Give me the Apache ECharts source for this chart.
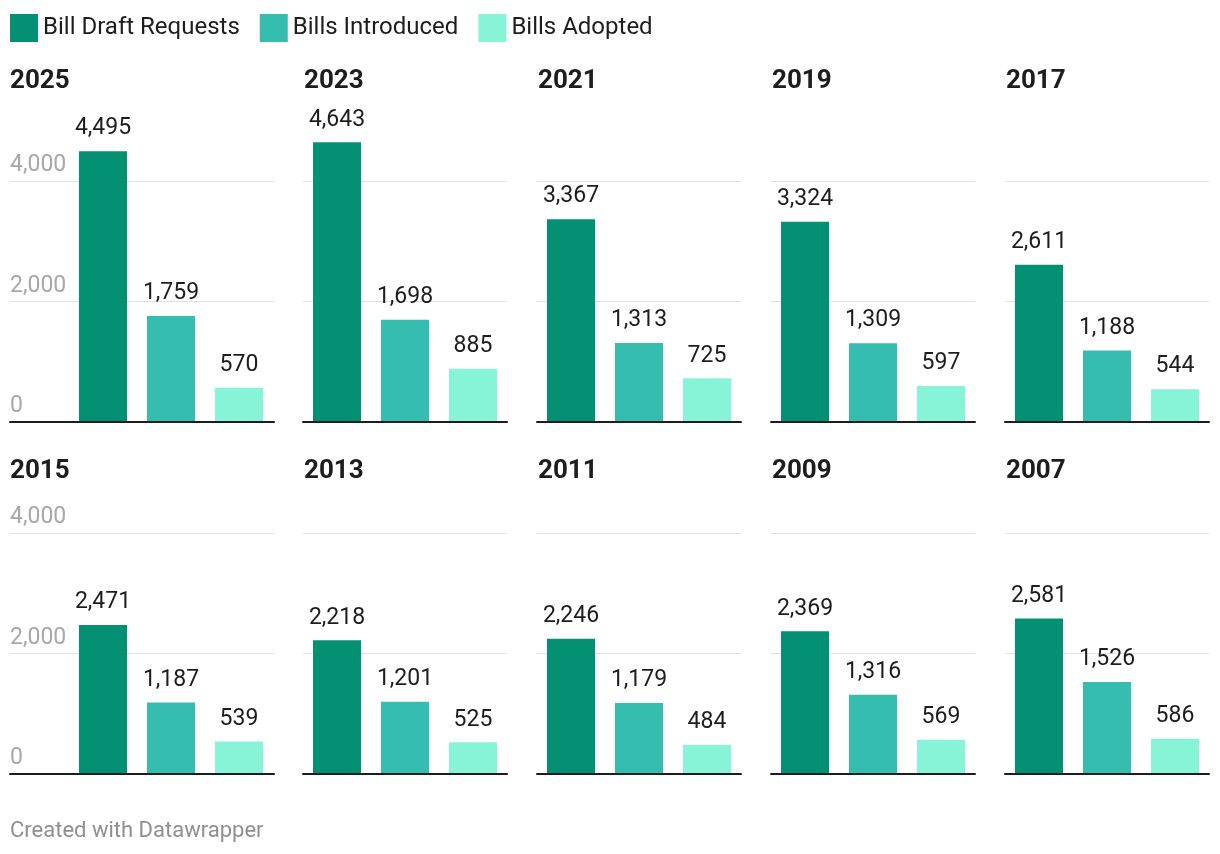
<!DOCTYPE html>
<html>
<head>
<meta charset="utf-8">
<script src="https://cdn.jsdelivr.net/npm/echarts@6/dist/echarts.min.js"></script>
<style>
html,body{margin:0;padding:0;background:#fff;}
#chart{width:1220px;height:854px;}
</style>
</head>
<body>
<div id="chart"></div>
<script>
const years = ['2025','2023','2021','2019','2017','2015','2013','2011','2009','2007'];
const draftRequests = [4495,4643,3367,3324,2611,2471,2218,2246,2369,2581];
const billsIntroduced = [1759,1698,1313,1309,1188,1187,1201,1179,1316,1526];
const billsAdopted = [570,885,725,597,544,539,525,484,569,586];
const seriesNames = ['Bill Draft Requests','Bills Introduced','Bills Adopted'];
const colors = ['#049073','#35bdaf','#88f4d7'];
const axisMin = 0, axisMax = 4000, axisInterval = 2000;

const FONT = 'Roboto';
const fmt = v => Number(v).toLocaleString('en-US');

const grids = [], xAxes = [], yAxes = [], series = [], titles = [];
const metricData = [draftRequests, billsIntroduced, billsAdopted];

function addGrid(left, top, width, height, showDecor, showLabels, cats) {
  const idx = grids.length;
  grids.push({left: left, top: top, width: width, height: height, containLabel: false});
  xAxes.push({
    type: 'category', gridIndex: idx, data: cats,
    axisLine: {show: showDecor, lineStyle: {color: '#1d1d1d', width: 2}},
    axisTick: {show: false}, axisLabel: {show: false}, splitLine: {show: false},
    z: 3
  });
  yAxes.push({
    type: 'value', gridIndex: idx, min: axisMin, max: axisMax, interval: axisInterval,
    axisLine: {show: false}, axisTick: {show: false},
    splitLine: {show: showDecor, lineStyle: {color: '#e2e2e2', width: 1}},
    axisLabel: {
      show: showLabels, inside: true, margin: 0, align: 'left', verticalAlign: 'bottom',
      padding: [0, 0, 4, 0],
      color: '#a8a8a8', fontFamily: FONT, fontSize: 23,
      formatter: v => fmt(v)
    }
  });
  return idx;
}

years.forEach((yr, i) => {
  const r = Math.floor(i / 5), c = i % 5;
  const top = r === 0 ? 181 : 533;
  const height = 241;
  const left = 69 + 234 * c;
  if (c === 0) {
    addGrid(10, top, 264, height, true, true, ['']);
  }
  const gi = addGrid(left, top, 204, height, c !== 0, false, ['a','b','c']);
  titles.push({
    text: yr, left: c === 0 ? 10 : left + 1, top: r === 0 ? 68 : 458, padding: 0,
    textStyle: {fontFamily: FONT, fontSize: 26, fontWeight: 'bold', color: '#1d1d1d'}
  });
  metricData.forEach((arr, m) => {
    const d = ['-','-','-'];
    d[m] = arr[i];
    series.push({
      name: seriesNames[m], type: 'bar', xAxisIndex: gi, yAxisIndex: gi,
      stack: 'p' + i, data: d, barWidth: 48, clip: false,
      itemStyle: {color: colors[m]},
      label: {
        show: true, position: 'top', distance: 11,
        fontFamily: FONT, fontSize: 23, color: '#1d1d1d',
        formatter: p => fmt(p.value)
      },
      silent: true, animation: false
    });
  });
});

const chart = echarts.init(document.getElementById('chart'), null, {renderer: 'canvas'});
chart.setOption({
  backgroundColor: '#ffffff',
  animation: false,
  textStyle: {fontFamily: FONT},
  title: titles,
  legend: {
    data: seriesNames, left: 10, top: 14, padding: 0,
    itemWidth: 28, itemHeight: 28, itemGap: 20, icon: 'rect',
    textStyle: {fontFamily: FONT, fontSize: 24, color: '#1d1d1d'},
    selectedMode: false
  },
  grid: grids, xAxis: xAxes, yAxis: yAxes, series: series,
  graphic: [{
    type: 'text', left: 10, top: 820,
    style: {text: 'Created with Datawrapper', fill: '#8f8f8f', font: '22px Roboto'}
  }]
});
</script>
</body>
</html>
